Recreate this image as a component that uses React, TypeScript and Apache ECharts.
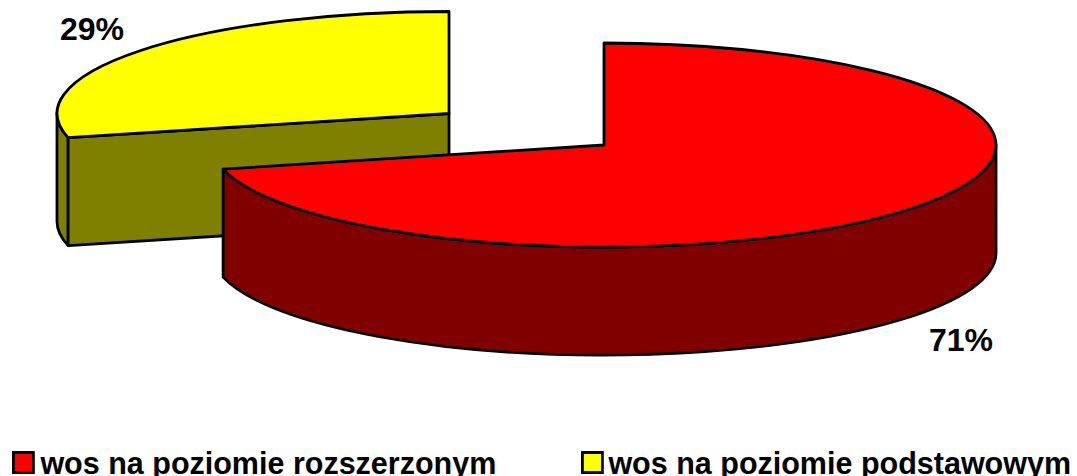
import React, { useEffect, useRef } from "react";
import * as echarts from "echarts";

const categories = ["wos na poziomie rozszerzonym", "wos na poziomie podstawowym"];
const shares = [71.2, 28.8];
const topColors = ["#ff0000", "#ffff00"];
const sideColors = ["#800000", "#808000"];

// layout of the drawing
const RX = 392;
const RY = 102;
const DEPTH = 108;
const centers = [[604, 145], [449, 113.5]];
const labelCenters = [[961, 340], [92, 29]];
const FONT = '"Liberation Sans", Arial, sans-serif';
const LINE = 2.8;

const total = shares.reduce((a, b) => a + b, 0);

function pt(c: number[], a: number, dy = 0) {
  return [c[0] + RX * Math.sin(a), c[1] - RY * Math.cos(a) + dy];
}

function arcCmd(to: number[], large: boolean, sweep: number) {
  return `A${RX} ${RY} 0 ${large ? 1 : 0} ${sweep} ${to[0]} ${to[1]}`;
}

function sliceAngles(idx: number) {
  const before = shares.slice(0, idx).reduce((a, b) => a + b, 0);
  return [(before / total) * 2 * Math.PI, ((before + shares[idx]) / total) * 2 * Math.PI];
}

function renderSlice(idx: number) {
  return (_params: any, api: any) => {
    const c = centers[idx];
    const [a0, a1] = sliceAngles(idx);
    const shapeStyle = (fill: string) => ({ fill, stroke: "#000", lineWidth: LINE, lineJoin: "round" });
    const children: any[] = [];

    // outer wall: only the part in front (90deg .. 270deg)
    const w0 = Math.max(a0, Math.PI / 2);
    const w1 = Math.min(a1, (3 * Math.PI) / 2);
    if (w1 > w0) {
      const p0 = pt(c, w0);
      const p1 = pt(c, w1);
      const q0 = pt(c, w0, DEPTH);
      const q1 = pt(c, w1, DEPTH);
      const large = w1 - w0 > Math.PI;
      children.push({
        type: "path",
        shape: {
          pathData:
            `M${p0[0]} ${p0[1]} ${arcCmd(p1, large, 1)} L${q1[0]} ${q1[1]} ` +
            `${arcCmd(q0, large, 0)} Z`,
        },
        style: shapeStyle(sideColors[idx]),
      });
    }

    // radial cut faces that look towards the viewer
    const faces: number[] = [];
    if (Math.sin(a0) < -1e-6) faces.push(a0);
    if (Math.sin(a1) > 1e-6) faces.push(a1);
    faces.forEach((a) => {
      const e = pt(c, a);
      children.push({
        type: "polygon",
        shape: { points: [c, e, [e[0], e[1] + DEPTH], [c[0], c[1] + DEPTH]] },
        style: shapeStyle(sideColors[idx]),
      });
    });

    // top face
    const s = pt(c, a0);
    const t = pt(c, a1);
    children.push({
      type: "path",
      shape: {
        pathData: `M${c[0]} ${c[1]} L${s[0]} ${s[1]} ${arcCmd(t, a1 - a0 > Math.PI, 1)} Z`,
      },
      style: shapeStyle(topColors[idx]),
    });

    children.push({
      type: "text",
      style: {
        x: labelCenters[idx][0],
        y: labelCenters[idx][1],
        text: `${Math.round(api.value(0))}%`,
        fill: "#000",
        font: `bold 32px ${FONT}`,
        align: "center",
        verticalAlign: "middle",
      },
    });
    return { type: "group", children };
  };
}

export default function App() {
  const ref = useRef<HTMLDivElement>(null);
  useEffect(() => {
    document.body.style.margin = "0";
    const chart = echarts.init(ref.current!, null, { renderer: "svg" });
    const legendBase = {
      top: 447,
      padding: 0,
      itemWidth: 20,
      itemHeight: 20,
      icon: "rect",
      selectedMode: false,
      itemStyle: { borderColor: "#000", borderWidth: 2.8 },
      textStyle: {
        color: "#000",
        fontFamily: FONT,
        fontWeight: "bold" as const,
        fontSize: 30.5,
      },
    };
    chart.setOption({
      animation: false,
      backgroundColor: "#fff",
      legend: [
        {
          ...legendBase,
          left: 12,
          data: [categories[0]],
          textStyle: { ...legendBase.textStyle, padding: [0, 0, 0, 2] },
        },
        {
          ...legendBase,
          left: 581,
          data: [categories[1]],
          textStyle: { ...legendBase.textStyle, padding: [0, 0, 0, 1] },
        },
      ],
      // yellow slice is behind the red one, so it is painted first
      series: [1, 0].map((idx) => ({
        type: "custom",
        name: categories[idx],
        coordinateSystem: "none",
        silent: true,
        itemStyle: { color: topColors[idx] },
        data: [[shares[idx]]],
        renderItem: renderSlice(idx),
      })),
    });
    return () => chart.dispose();
  }, []);
  return <div ref={ref} style={{ width: 1077, height: 476 }} />;
}
